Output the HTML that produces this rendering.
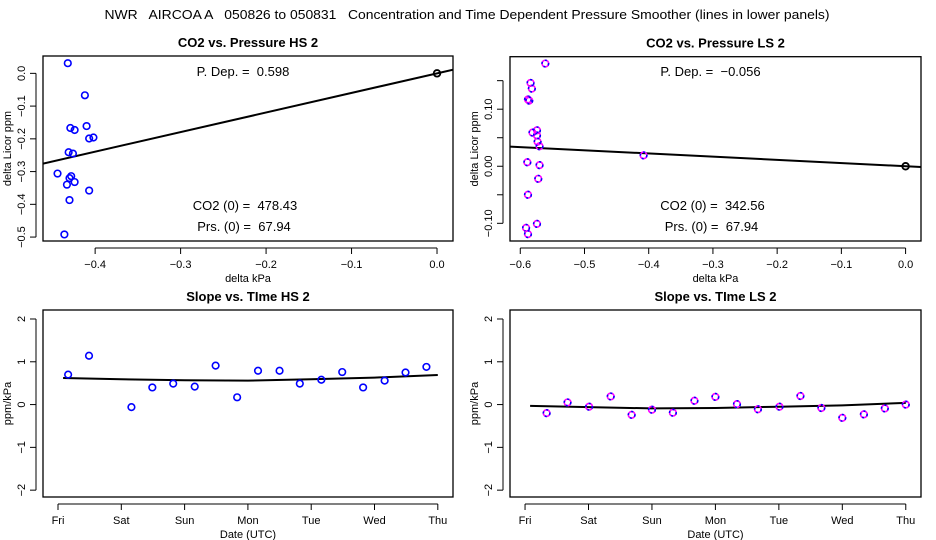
<!DOCTYPE html>
<html><head><meta charset="utf-8"><style>
html,body{margin:0;padding:0;background:#fff;}
svg{display:block;font-family:"Liberation Sans",Arial,sans-serif;}
svg text{white-space:pre;}
</style></head><body>
<svg id="chart" width="936" height="540" viewBox="0 0 936 540" xmlns="http://www.w3.org/2000/svg" xml:space="preserve">
<text x="467" y="19" font-size="13" text-anchor="middle" textLength="725" lengthAdjust="spacingAndGlyphs">NWR   AIRCOA A   050826 to 050831   Concentration and Time Dependent Pressure Smoother (lines in lower panels)</text>
</svg>
<script>
// ---- data ----
const hsPresX = [-0.432,-0.412,-0.429,-0.424,-0.410,-0.407,-0.402,-0.431,-0.426,-0.444,-0.428,-0.430,-0.424,-0.433,-0.407,-0.430,-0.436];
const hsPresY = [0.031,-0.067,-0.167,-0.173,-0.161,-0.199,-0.196,-0.241,-0.245,-0.306,-0.314,-0.320,-0.332,-0.340,-0.358,-0.387,-0.492];
const lsPresX = [-0.561,-0.584,-0.582,-0.588,-0.586,-0.581,-0.574,-0.574,-0.573,-0.570,-0.408,-0.589,-0.570,-0.572,-0.588,-0.574,-0.591,-0.588];
const lsPresY = [0.180,0.146,0.136,0.117,0.115,0.059,0.063,0.054,0.043,0.035,0.019,0.007,0.002,-0.022,-0.050,-0.101,-0.108,-0.119];
const hsPDep = 0.598, lsPDep = -0.056;
const hsTimeX = [0.16,0.49,1.16,1.49,1.82,2.16,2.49,2.83,3.16,3.5,3.82,4.16,4.49,4.82,5.16,5.49,5.82];
const hsSlope = [0.70,1.14,-0.06,0.40,0.49,0.42,0.91,0.17,0.79,0.79,0.49,0.58,0.76,0.40,0.56,0.75,0.88];
const hsSmoothX = [0.08,1,2,3,4,5,6];
const hsSmoothY = [0.62,0.59,0.57,0.56,0.59,0.63,0.69];
const lsTimeX = [0.34,0.67,1.01,1.35,1.68,2.0,2.33,2.67,3.0,3.34,3.67,4.01,4.34,4.67,5.0,5.34,5.67,6.0];
const lsSlope = [-0.20,0.05,-0.05,0.19,-0.24,-0.12,-0.19,0.09,0.18,0.01,-0.11,-0.05,0.20,-0.08,-0.31,-0.23,-0.09,0.0];
const lsSmoothX = [0.08,1,2,3,4,5,6];
const lsSmoothY = [-0.03,-0.06,-0.09,-0.08,-0.05,-0.02,0.04];
const dayLabels = ["Fri","Sat","Sun","Mon","Tue","Wed","Thu"];
const slopeTicks = [-2,-1,0,1,2];
const hsPresXTicks = [-0.4,-0.3,-0.2,-0.1,0.0];
const hsPresYTicks = [0.0,-0.1,-0.2,-0.3,-0.4,-0.5];
const lsPresXTicks = [-0.6,-0.5,-0.4,-0.3,-0.2,-0.1,0.0];
const lsPresYTicks = [0.15,0.10,0.05,0.0,-0.05,-0.10];
const lsPresYLabels = ["","0.10","","0.00","","-0.10"];

const NS="http://www.w3.org/2000/svg";
const svg=document.getElementById('chart');
function el(tag,attrs,parent){const e=document.createElementNS(NS,tag);for(const k in attrs)e.setAttribute(k,attrs[k]);(parent||svg).appendChild(e);return e;}
function txt(s,attrs,parent){const t=el('text',attrs,parent);t.textContent=s.replace(/-/g,'\u2212');return t;}

function panel(o){
  const g=el('g',{});
  
  
  const sx=v=>o.x0+(v-o.xmin)/(o.xmax-o.xmin)*(o.x1-o.x0);
  const sy=v=>o.y1-(v-o.ymin)/(o.ymax-o.ymin)*(o.y1-o.y0);
  const box=el('rect',{x:o.x0,y:o.y0,width:o.x1-o.x0,height:o.y1-o.y0,fill:'none',stroke:'#000','stroke-width':1.3},g);
  
  
  const t=txt(o.title,{x:(o.x0+o.x1)/2,y:o.y0-9,'font-size':13,'font-weight':'bold','text-anchor':'middle'},g);
  
  
  const xa=el('g',{},g);
  
  
  const xt0=sx(o.xticks[0]), xt1=sx(o.xticks[o.xticks.length-1]);
  el('line',{x1:xt0,x2:xt1,y1:o.y1+7,y2:o.y1+7,stroke:'#000'},xa);
  o.xticks.forEach((v,i)=>{
    el('line',{x1:sx(v),x2:sx(v),y1:o.y1+7,y2:o.y1+13,stroke:'#000'},xa);
    const lab=txt(o.xlabels?o.xlabels[i]:v.toFixed(1),{x:sx(v),y:o.y1+27,'font-size':11,'text-anchor':'middle'},xa);
    
    
  });
  const xl=txt(o.xtitle,{x:(o.x0+o.x1)/2,y:o.y1+41,'font-size':11,'text-anchor':'middle'},g);
  
  
  const ya=el('g',{},g);
  
  
  const yt0=sy(o.yticks[0]), yt1=sy(o.yticks[o.yticks.length-1]);
  el('line',{x1:o.x0-7,x2:o.x0-7,y1:yt0,y2:yt1,stroke:'#000'},ya);
  o.yticks.forEach((v,i)=>{
    el('line',{x1:o.x0-13,x2:o.x0-7,y1:sy(v),y2:sy(v),stroke:'#000'},ya);
    const s=o.ylabels?o.ylabels[i]:(o.ydec!=null?v.toFixed(o.ydec):String(v));
    if(s){const lab=txt(s,{x:o.x0-18,y:sy(v),'font-size':11,'text-anchor':'middle',transform:`rotate(-90 ${o.x0-18} ${sy(v)})`},ya);
      
      }
  });
  const yl=txt(o.ytitle,{x:o.x0-32,y:(o.y0+o.y1)/2,'font-size':11,'text-anchor':'middle',transform:`rotate(-90 ${o.x0-32} ${(o.y0+o.y1)/2})`},g);
  
  
  const cid='c'+o.name;
  const cp=el('clipPath',{id:cid},g);el('rect',{x:o.x0,y:o.y0,width:o.x1-o.x0,height:o.y1-o.y0},cp);
  const pg=el('g',{'clip-path':`url(#${cid})`},g);
  if(o.lineX){
    const d=o.lineX.map((v,i)=>(i?'L':'M')+sx(v).toFixed(1)+' '+sy(o.lineY[i]).toFixed(1)).join(' ');
    const p=el('path',{d:d,fill:'none',stroke:'#000','stroke-width':2},pg);
    
    
  }
  o.px.forEach((v,i)=>{
    const cx=sx(v),cy=sy(o.py[i]);
    if(o.magenta){
      const c=el('circle',{cx:cx,cy:cy,r:3.3,fill:'none',stroke:'#f0f','stroke-width':1.6},pg);
      
      
      el('circle',{cx:cx,cy:cy,r:3.3,fill:'none',stroke:'#00f','stroke-width':1.6,'stroke-dasharray':'2 3'},pg);
    } else {
      const c=el('circle',{cx:cx,cy:cy,r:3.3,fill:'none',stroke:'#00f','stroke-width':1.6},pg);
      
      
    }
  });
  if(o.origin){
    const c=el('circle',{cx:sx(0),cy:sy(0),r:3.3,fill:'none',stroke:'#000','stroke-width':1.8},pg);
    
    
  }
  (o.notes||[]).forEach(n=>{
    const a=txt(n[0],{x:(o.x0+o.x1)/2+n[2],y:n[1],'font-size':13,'text-anchor':'middle'},g);
    
    
  });
}

const hsL=-0.461, hsR=0.0187, lsL=-0.616, lsR=0.024;
panel({name:'panel-co2-pressure-hs',title:'CO2 vs. Pressure HS 2',x0:43,x1:453,y0:56,y1:241,xmin:hsL,xmax:hsR,ymin:-0.512,ymax:0.053,
  xticks:hsPresXTicks,yticks:hsPresYTicks,ydec:1,xtitle:'delta kPa',ytitle:'delta Licor ppm',
  px:hsPresX,py:hsPresY,lineX:[hsL,hsR],lineY:[hsPDep*hsL,hsPDep*hsR],origin:true,
  notes:[['P. Dep. =  '+hsPDep.toFixed(3),76,-5],['CO2 (0) =  478.43',210,-3],['Prs. (0) =  67.94',231,-4]]});
panel({name:'panel-co2-pressure-ls',title:'CO2 vs. Pressure LS 2',x0:510,x1:921,y0:56.7,y1:241,xmin:lsL,xmax:lsR,ymin:-0.131,ymax:0.192,
  xticks:lsPresXTicks,yticks:lsPresYTicks,ylabels:lsPresYLabels,xtitle:'delta kPa',ytitle:'delta Licor ppm',
  px:lsPresX,py:lsPresY,lineX:[lsL,lsR],lineY:[lsPDep*lsL,lsPDep*lsR],origin:true,magenta:true,
  notes:[['P. Dep. =  '+lsPDep.toFixed(3),76,-5],['CO2 (0) =  342.56',210,-3],['Prs. (0) =  67.94',231,-4]]});
panel({name:'panel-slope-time-hs',title:'Slope vs. TIme HS 2',x0:43,x1:453,y0:310,y1:497,xmin:-0.237,xmax:6.24,ymin:-2.16,ymax:2.21,
  xticks:[0,1,2,3,4,5,6],xlabels:dayLabels,yticks:slopeTicks,xtitle:'Date (UTC)',ytitle:'ppm/kPa',
  px:hsTimeX,py:hsSlope,lineX:hsSmoothX,lineY:hsSmoothY});
panel({name:'panel-slope-time-ls',title:'Slope vs. TIme LS 2',x0:510,x1:921,y0:310,y1:497,xmin:-0.237,xmax:6.24,ymin:-2.16,ymax:2.21,
  xticks:[0,1,2,3,4,5,6],xlabels:dayLabels,yticks:slopeTicks,xtitle:'Date (UTC)',ytitle:'ppm/kPa',
  px:lsTimeX,py:lsSlope,lineX:lsSmoothX,lineY:lsSmoothY,magenta:true});
</script>
</body></html>
